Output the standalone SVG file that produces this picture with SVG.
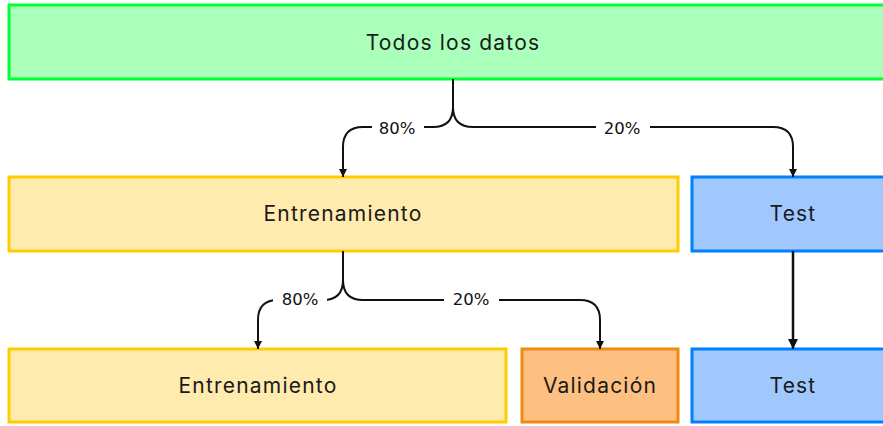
<svg xmlns="http://www.w3.org/2000/svg" width="883" height="426" viewBox="0 0 883 426">
<style>
.n text{font-family:Inter,"DejaVu Sans",sans-serif;font-size:21px;letter-spacing:1.2px;fill:#1a1a1a;text-anchor:middle;dominant-baseline:central}
.g rect{fill:#aaffbb;stroke:#00ff33;stroke-width:3}
.y rect{fill:#ffebad;stroke:#ffcc00;stroke-width:3}
.b rect{fill:#a0c8ff;stroke:#0080ff;stroke-width:3}
.o rect{fill:#fdc080;stroke:#f08a10;stroke-width:3}
.c path{fill:none;stroke:#111;stroke-width:2}
.lbl rect{fill:#fff}
.lbl text{font-family:"DejaVu Sans",sans-serif;font-size:16.5px;fill:#111;text-anchor:middle;dominant-baseline:central}
</style>
<defs>
<marker id="ah" viewBox="0 0 10 10" refX="10" refY="5" markerWidth="4" markerHeight="4" orient="auto" markerUnits="strokeWidth">
<path d="M0,0 L10,5 L0,10 Z" fill="#111"/>
</marker>
</defs>
<rect width="883" height="426" fill="#fff"/>
<g id="todos" class="n g"><rect x="9" y="5" width="888" height="74"/><text x="453" y="42">Todos los datos</text></g>
<g id="entrenamiento1" class="n y"><rect x="9" y="177" width="669" height="74"/><text x="343" y="213">Entrenamiento</text></g>
<g id="test1" class="n b"><rect x="692" y="177" width="202" height="74"/><text x="793" y="213">Test</text></g>
<g id="entrenamiento2" class="n y"><rect x="9" y="349" width="497" height="73"/><text x="258" y="385">Entrenamiento</text></g>
<g id="validacion" class="n o"><rect x="522" y="349" width="156" height="73"/><text x="600" y="385">Validación</text></g>
<g id="test2" class="n b"><rect x="692" y="349" width="202" height="73"/><text x="793" y="385">Test</text></g>
<g id="connectors" class="c">
<path d="M453,79 L453,107 Q453,127 433,127 L363,127 Q343,127 343,147 L343,177" marker-end="url(#ah)"/>
<path d="M453,107 Q453,127 473,127 L773,127 Q793,127 793,147 L793,177" marker-end="url(#ah)"/>
<path d="M343,251 L343,280 Q343,300 323,300 L278,300 Q258,300 258,320 L258,349" marker-end="url(#ah)"/>
<path d="M343,280 Q343,300 363,300 L580,300 Q600,300 600,320 L600,349" marker-end="url(#ah)"/>
<path d="M793,251 L793,349" style="stroke-width:2.5" marker-end="url(#ah)"/>
</g>
<g id="labels" class="lbl">
<rect x="372" y="117" width="52" height="20"/><text x="397" y="128">80%</text>
<rect x="596" y="117" width="54" height="20"/><text x="622" y="128">20%</text>
<rect x="273" y="290" width="54" height="20"/><text x="300" y="299">80%</text>
<rect x="444" y="290" width="55" height="20"/><text x="471" y="299">20%</text>
</g>
</svg>
